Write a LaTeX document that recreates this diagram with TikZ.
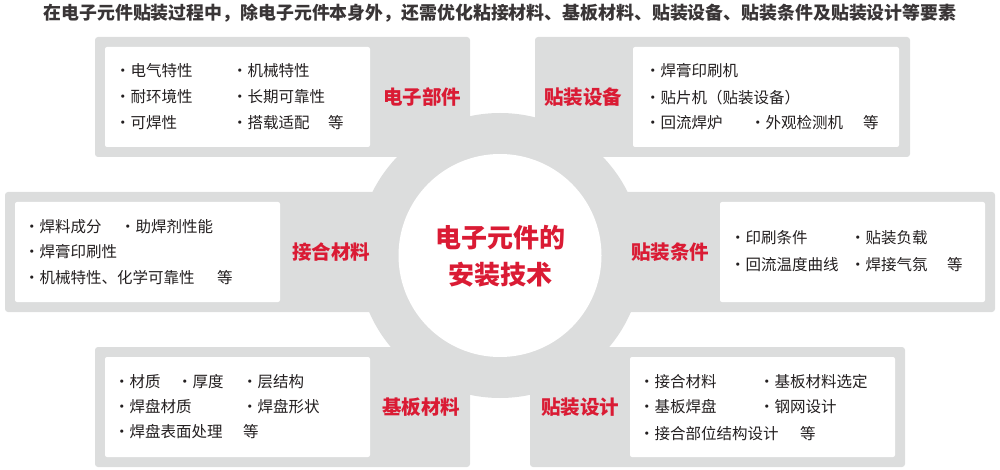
\documentclass[tikz,border=0pt]{standalone}
\usepackage{fontspec}
\setmainfont{Noto Sans CJK SC}
\usepackage{xcolor}
\usetikzlibrary{positioning}
\definecolor{ringgray}{RGB}{220,221,221}
\definecolor{mainred}{RGB}{218,27,52}
\definecolor{txtdark}{RGB}{35,31,32}
\tikzstyle{panel} = [fill=ringgray, rounded corners=3pt]
\tikzstyle{card} = [fill=white, rounded corners=2pt]
\tikzstyle{item} = [anchor=west, inner sep=0pt, text=txtdark, font=\fontsize{15.5}{18}\selectfont]
\tikzstyle{topic} = [inner sep=0pt, text=mainred, font=\fontsize{19.5}{22}\selectfont\bfseries]

\begin{document}
\begin{tikzpicture}[x=1pt,y=-1pt]
      \useasboundingbox (0,0) rectangle (1000,470);

      % Title
      \node[inner sep=0pt, text=txtdark!90, font=\fontsize{17.9}{20}\selectfont\bfseries] (head) at (500,13) {在电子元件贴装过程中，除电子元件本身外，还需优化粘接材料、基板材料、贴装设备、贴装条件及贴装设计等要素};

      % Grey ring and panels
      \fill[ringgray] (500,255.5) circle (142.5pt);
      \fill[panel] (95,37) rectangle (470,157);
      \fill[panel] (535,37) rectangle (910,157);
      \fill[panel] (5,192) rectangle (420,312);
      \fill[panel] (580,192) rectangle (995,312);
      \fill[panel] (95,347) rectangle (470,467);
      \fill[panel] (530,347) rectangle (905,467);

      % White hub and cards
      \fill[white] (500,255.5) circle (101.5pt);
      \fill[card] (105,47) rectangle (370,147);
      \fill[card] (633,47) rectangle (899,147);
      \fill[card] (15,202) rectangle (280,302);
      \fill[card] (720,202) rectangle (985,302);
      \fill[card] (105,357) rectangle (370,457);
      \fill[card] (630,357) rectangle (895,457);

      % Center text
      \node[align=center, inner sep=0pt, text=mainred, font=\fontsize{26}{37}\selectfont\bfseries] (core) at (500,256.5) {电子元件的\\安装技术};

      % Topic labels
      \node[topic] (dianzi) at (422,97) {电子部件};
      \node[topic] (shebei) at (583,97) {贴装设备};
      \node[topic] (jiehe) at (331,252) {接合材料};
      \node[topic] (tiaojian) at (670,252) {贴装条件};
      \node[topic] (jiban) at (421,407) {基板材料};
      \node[topic] (sheji) at (580,407) {贴装设计};

      % Electronic parts
      \node[item] (dianzi1) at (115,71) {・电气特性};
      \node[item] (dianzi2) at (232,71) {・机械特性};
      \node[item] (dianzi3) at (115,97) {・耐环境性};
      \node[item] (dianzi4) at (232,97) {・长期可靠性};
      \node[item] (dianzi5) at (115,123) {・可焊性};
      \node[item] (dianzi6) at (232,123) {・搭载适配};
      \node[item] (dianzi7) at (328,123) {等};

      % Mounting equipment
      \node[item] (shebei1) at (645,71) {・焊膏印刷机};
      \node[item] (shebei2) at (645,98) {・贴片机（贴装设备）};
      \node[item] (shebei3) at (645,123) {・回流焊炉};
      \node[item] (shebei4) at (750,123) {・外观检测机};
      \node[item] (shebei5) at (863,123) {等};

      % Joining materials
      \node[item] (jiehe1) at (24,227) {・焊料成分};
      \node[item] (jiehe2) at (120,227) {・助焊剂性能};
      \node[item] (jiehe3) at (24,252) {・焊膏印刷性};
      \node[item] (jiehe4) at (24,278) {・机械特性、化学可靠性};
      \node[item] (jiehe5) at (217,278) {等};

      % Mounting conditions
      \node[item] (tiaojian1) at (730,238) {・印刷条件};
      \node[item] (tiaojian2) at (850,238) {・贴装负载};
      \node[item] (tiaojian3) at (730,265) {・回流温度曲线};
      \node[item] (tiaojian4) at (850,265) {・焊接气氛};
      \node[item] (tiaojian5) at (947,265) {等};

      % Substrate materials
      \node[item] (jiban1) at (114,382) {・材质};
      \node[item] (jiban2) at (177,382) {・厚度};
      \node[item] (jiban3) at (242,382) {・层结构};
      \node[item] (jiban4) at (114,407) {・焊盘材质};
      \node[item] (jiban5) at (242,407) {・焊盘形状};
      \node[item] (jiban6) at (114,432) {・焊盘表面处理};
      \node[item] (jiban7) at (243,432) {等};

      % Mounting design
      \node[item] (sheji1) at (639,382) {・接合材料};
      \node[item] (sheji2) at (759,382) {・基板材料选定};
      \node[item] (sheji3) at (639,407) {・基板焊盘};
      \node[item] (sheji4) at (759,407) {・钢网设计};
      \node[item] (sheji5) at (639,434) {・接合部位结构设计};
      \node[item] (sheji6) at (800,434) {等};
    \end{tikzpicture}
\end{document}
